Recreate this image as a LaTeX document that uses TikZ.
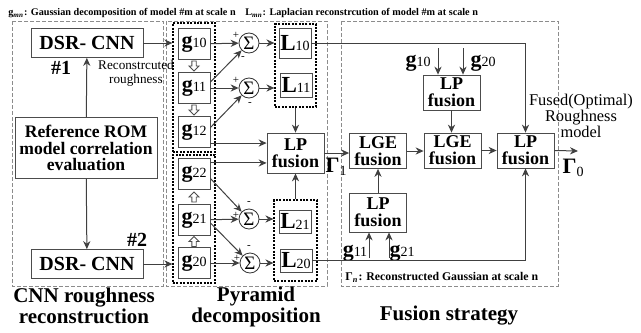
\documentclass[tikz,border=0pt]{standalone}
\usepackage{fontspec}
\setmainfont{Liberation Serif}
\usetikzlibrary{arrows.meta,calc}

% bold letter with a smaller upright index
\newcommand{\sbx}[3][7]{\textbf{#2}{\fontsize{#1}{#1}\selectfont\mdseries\raisebox{-0.3pt}{#3}}}

\begin{document}
\begin{tikzpicture}[
  x=0.5pt, y=-0.5pt,
  box/.style={draw=black!70, fill=white, align=center, inner sep=0pt},
  cnn/.style={box, minimum width=56pt, minimum height=14.5pt, font=\fontsize{10}{10}\selectfont\bfseries},
  gbox/.style={box, minimum width=16pt, minimum height=15.5pt, font=\fontsize{11}{11}\selectfont},
  lbox/.style={box, minimum width=16pt, font=\fontsize{11.5}{11.5}\selectfont},
  fus/.style={box, minimum width=28.5pt, minimum height=17.5pt, font=\fontsize{9}{8.5}\selectfont\bfseries},
  sumnode/.style={circle, draw=black!80, minimum size=10pt, inner sep=0pt, font=\fontsize{9.5}{9.5}\selectfont},
  region/.style={draw=black!45, line width=0.5pt, dash pattern=on 2pt off 1pt},
  group/.style={draw=black, line width=0.6pt, dash pattern=on 1pt off 0.7pt, inner sep=0pt},
  arr/.style={-{Stealth[length=4pt,width=3.6pt]}, draw=black!75, line width=0.5pt},
  sgn/.style={font=\fontsize{5.5}{5.5}\selectfont, inner sep=0pt},
  legend/.style={font=\fontsize{5.1}{5.1}\selectfont\bfseries, inner sep=0pt},
  note/.style={font=\fontsize{6.6}{7}\selectfont, align=center, inner sep=0pt},
  title/.style={font=\fontsize{10.5}{9.5}\selectfont\bfseries, align=center, inner sep=0pt},
  inlbl/.style={font=\fontsize{11}{11}\selectfont, inner sep=0pt},
  hollow/.pic={\draw[draw=black!70, fill=white, line width=0.45pt]
    (-2.2,-5) -- (2.2,-5) -- (2.2,0) -- (5,0) -- (0,5) -- (-5,0) -- (-2.2,0) -- cycle;}
]
  \useasboundingbox (0,0) rectangle (641,332);

  % legends
  \node[legend, anchor=base west] (keyg) at (8,16)
    {g\textsubscript{\textit{mn}}: Gaussian decomposition of model \#m at scale n};
  \node[legend, anchor=base west] (keyl) at (245,16)
    {L\textsubscript{\textit{mn}}: Laplacian reconstrcution of model \#m at scale n};

  % the three stages
  \draw[region] (12,21) rectangle (163,286);
  \draw[region] (166,21) rectangle (327,286);
  \draw[region] (341,21) rectangle (558,286);

  % CNN roughness reconstruction
  \node[cnn] (cnn1) at (87,43) {DSR- CNN};
  \node[cnn] (cnn2) at (87,264) {DSR- CNN};
  \node[box, minimum width=71pt, minimum height=30.5pt, font=\fontsize{8.8}{8.4}\selectfont\bfseries]
    (rom) at (86,148) {Reference ROM\\model correlation\\evaluation};
  \node[font=\fontsize{10}{10}\selectfont\bfseries, inner sep=0pt] (no1) at (61,68) {\#1};
  \node[font=\fontsize{10}{10}\selectfont\bfseries, inner sep=0pt] (no2) at (137,240) {\#2};
  \node[note] (recon) at (136,73) {Reconstrcuted\\roughness};
  \draw[arr] (rom) -- (cnn1);
  \draw[arr] (rom) -- (cnn2);

  % pyramid decomposition
  \node[group, minimum width=21pt, minimum height=64.5pt] (gg1) at (194,87.5) {};
  \node[group, minimum width=21pt, minimum height=64pt] (gg2) at (194,219) {};
  \node[group, minimum width=20.5pt, minimum height=41.5pt] (gl1) at (295.5,65.5) {};
  \node[group, minimum width=21.5pt, minimum height=40.5pt] (gl2) at (295.5,240.5) {};

  \node[gbox] (g10) at (194,44) {\sbx{g}{10}};
  \node[gbox] (g11) at (194,88) {\sbx{g}{11}};
  \node[gbox] (g12) at (194,132) {\sbx{g}{12}};
  \node[gbox] (g22) at (194,174) {\sbx{g}{22}};
  \node[gbox] (g21) at (194,220) {\sbx{g}{21}};
  \node[gbox] (g20) at (194,263) {\sbx{g}{20}};

  \pic at ($(g10.south)!.5!(g11.north)$) {hollow};
  \pic at ($(g11.south)!.5!(g12.north)$) {hollow};
  \pic[rotate=180] at ($(g20.north)!.5!(g21.south)$) {hollow};
  \pic[rotate=180] at ($(g21.north)!.5!(g22.south)$) {hollow};

  \node[sumnode] (s10) at (249,43) {Σ};
  \node[sumnode] (s11) at (249,88) {Σ};
  \node[sumnode] (s21) at (249,219) {Σ};
  \node[sumnode] (s20) at (250,263) {Σ};

  \node[lbox, minimum height=15pt] (l10) at (295,43) {\sbx[7]{L}{10}};
  \node[lbox, minimum height=12pt] (l11) at (296,85) {\sbx[7]{L}{11}};
  \node[lbox, minimum height=11.5pt] (l21) at (295,221.5) {\sbx[7]{L}{21}};
  \node[lbox, minimum height=11.5pt] (l20) at (296,260.5) {\sbx[7]{L}{20}};

  \node[fus, minimum height=20pt] (lpm) at (295.5,153) {LP\\fusion};

  \draw[arr] (cnn1.east) -- (cnn1.east -| gg1.west);
  \draw[arr] (cnn2.east) -- (cnn2.east -| gg2.west);

  \draw[arr] (g10) -- (s10);
  \draw[arr] (g11.20) -- (s10.225);
  \draw[arr] (g11) -- (s11);
  \draw[arr] (g12.15) -- (s11.225);
  \draw[arr] (g21) -- (s21);
  \draw[arr] (g22.-15) -- (s21.135);
  \draw[arr] (g20) -- (s20);
  \draw[arr] (g21.-10) -- (s20.135);

  \node[sgn] at ($(s10)+(-13,-8)$) {+};
  \node[sgn] at ($(s10)+(-6,15)$) {-};
  \node[sgn] at ($(s11)+(-13,-8)$) {+};
  \node[sgn] at ($(s11)+(1,16)$) {-};
  \node[sgn] at ($(s21)+(-13,-4)$) {+};
  \node[sgn] at ($(s21)+(0,-16)$) {-};
  \node[sgn] at ($(s20)+(-13,-5)$) {+};
  \node[sgn] at ($(s20)+(-1,-16)$) {-};

  \draw[arr] (s10.east) -- (s10.east -| gl1.west);
  \draw[arr] (s11.east) -- (s11.east -| gl1.west);
  \draw[arr] (s21.east) -- (s21.east -| gl2.west);
  \draw[arr] (s20.east) -- (s20.east -| gl2.west);

  \draw[arr] (g12.east |- lpm.161) -- (lpm.161);
  \draw[arr] (g22.east |- lpm.199) -- (lpm.199);
  \draw[arr] (gl1.south) -- (lpm.north);
  \draw[arr] (gl2.north) -- (lpm.south);

  % fusion strategy
  \node[fus] (lge1) at (378,151) {LGE\\fusion};
  \node[fus, minimum height=19.5pt] (lpb) at (378,212.5) {LP\\fusion};
  \node[fus] (lpt) at (451.5,92.5) {LP\\fusion};
  \node[fus] (lge2) at (452.5,150.5) {LGE\\fusion};
  \node[fus] (lpout) at (525.5,150.5) {LP\\fusion};

  \node[inlbl, font=\fontsize{11}{11}\selectfont\bfseries] (gam1) at (336,167) {Γ\textmd{\fontsize{7}{7}\selectfont\raisebox{-1.5pt}{1}}};
  \node[inlbl, font=\fontsize{11}{11}\selectfont\bfseries] (gam0) at (573,168) {Γ\textmd{\fontsize{7}{7}\selectfont\raisebox{-1.5pt}{0}}};
  \node[font=\fontsize{8.2}{8}\selectfont, align=center, inner sep=0pt] (fused) at (581,116)
    {Fused(Optimal)\\Roughness\\model};

  \node[inlbl] (tg10) at (418,63) {\sbx{g}{10}};
  \node[inlbl] (tg20) at (483,63) {\sbx{g}{20}};
  \node[inlbl] (tg11) at (355,253) {\sbx{g}{11}};
  \node[inlbl] (tg21) at (402,253) {\sbx{g}{21}};
  \coordinate (in10) at (438,48);
  \coordinate (in20) at (463,48);
  \coordinate (in11) at (369,258);
  \coordinate (in21) at (389,258);
  \coordinate (out) at (578,151);

  \draw[arr] (lpm.east) -- (lpm.east -| lge1.west);
  \draw[arr] (lpb) -- (lge1);
  \draw[arr] (lge1.east) -- (lge1.east -| lge2.west);
  \draw[arr] (lpt.south) -- (lpt.south |- lge2.north);
  \draw[arr] (lge2) -- (lpout);
  \draw[arr] (in10) -- (in10 |- lpt.north);
  \draw[arr] (in20) -- (in20 |- lpt.north);
  \draw[arr] (in11) -- (in11 |- lpb.south);
  \draw[arr] (in21) -- (in21 |- lpb.south);
  \draw[arr] (l10.east) -| (lpout.north);
  \draw[arr] (l20.east) -| (lpout.south);
  \draw[arr] (lpout.east) -- (out);

  \node[legend, font=\fontsize{5.9}{5.9}\selectfont\bfseries, anchor=base west] (keygam) at (345,280)
    {Γ\textsubscript{\textit{n}}: Reconstructed Gaussian at scale n};

  % stage titles
  \node[title] (t1) at (84,306) {CNN roughness\\reconstruction};
  \node[title] (t2) at (256,307) {Pyramid\\decomposition};
  \node[title] (t3) at (449,316) {Fusion strategy};
\end{tikzpicture}
\end{document}
